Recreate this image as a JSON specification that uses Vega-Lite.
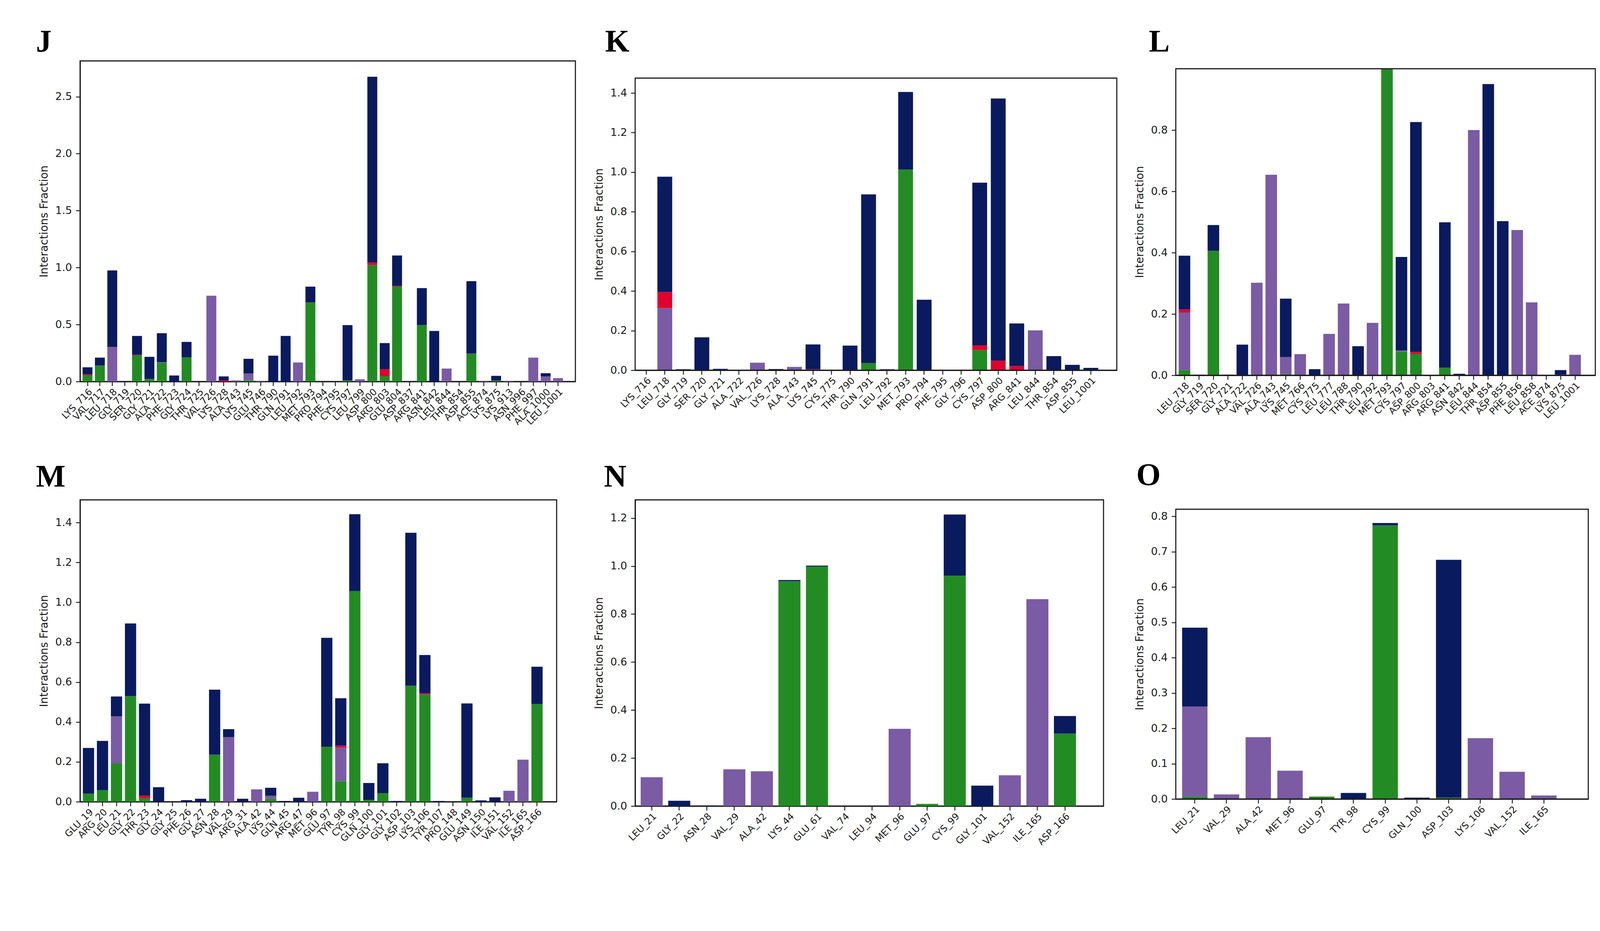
{
  "$schema": "https://vega.github.io/schema/vega-lite/v6.json",
  "background": "white",
  "padding": {"left": 90, "top": 66, "right": 10, "bottom": 10},
  "data": {
    "values": [
      {"p": "J", "r": "LYS_716", "hb": 0.055, "io": 0.01, "wb": 0.06},
      {"p": "J", "r": "VAL_717", "hb": 0.14, "wb": 0.07},
      {"p": "J", "r": "LEU_718", "hp": 0.305, "wb": 0.67},
      {"p": "J", "r": "GLY_719", "hb": 0},
      {"p": "J", "r": "SER_720", "hb": 0.23, "io": 0.005, "wb": 0.165},
      {"p": "J", "r": "GLY_721", "hb": 0.023, "wb": 0.194},
      {"p": "J", "r": "ALA_722", "hb": 0.165, "hp": 0.005, "wb": 0.254},
      {"p": "J", "r": "PHE_723", "wb": 0.053},
      {"p": "J", "r": "GLY_724", "hb": 0.212, "wb": 0.136},
      {"p": "J", "r": "THR_725", "hb": 0},
      {"p": "J", "r": "VAL_726", "hp": 0.753},
      {"p": "J", "r": "LYS_728", "io": 0.01, "wb": 0.035},
      {"p": "J", "r": "ALA_743", "hp": 0.01},
      {"p": "J", "r": "LYS_745", "hb": 0.012, "hp": 0.058, "wb": 0.13},
      {"p": "J", "r": "GLU_746", "hp": 0.005},
      {"p": "J", "r": "THR_790", "wb": 0.227},
      {"p": "J", "r": "GLN_791", "wb": 0.4},
      {"p": "J", "r": "LEU_792", "hp": 0.167},
      {"p": "J", "r": "MET_793", "hb": 0.694, "wb": 0.139},
      {"p": "J", "r": "PRO_794", "hb": 0},
      {"p": "J", "r": "PHE_795", "hb": 0},
      {"p": "J", "r": "CYS_797", "hb": 0.01, "wb": 0.485},
      {"p": "J", "r": "LEU_799", "hp": 0.02},
      {"p": "J", "r": "ASP_800", "hb": 1.023, "io": 0.022, "wb": 1.63},
      {"p": "J", "r": "ARG_803", "hb": 0.048, "io": 0.061, "wb": 0.229},
      {"p": "J", "r": "GLU_804", "hb": 0.833, "io": 0.008, "wb": 0.265},
      {"p": "J", "r": "ASP_837", "hb": 0},
      {"p": "J", "r": "ARG_841", "hb": 0.495, "wb": 0.325},
      {"p": "J", "r": "ASN_842", "wb": 0.444},
      {"p": "J", "r": "LEU_844", "hp": 0.114},
      {"p": "J", "r": "THR_854", "hb": 0},
      {"p": "J", "r": "ASP_855", "hb": 0.245, "wb": 0.636},
      {"p": "J", "r": "ACE_874", "hp": 0.005},
      {"p": "J", "r": "LYS_875", "hb": 0.01, "wb": 0.04},
      {"p": "J", "r": "LYS_913", "hp": 0.005},
      {"p": "J", "r": "ASN_996", "hb": 0},
      {"p": "J", "r": "PHE_997", "hp": 0.21},
      {"p": "J", "r": "ALA_1000", "hp": 0.045, "wb": 0.028},
      {"p": "J", "r": "LEU_1001", "hp": 0.03},

      {"p": "K", "r": "LYS_716", "hb": 0},
      {"p": "K", "r": "LEU_718", "hp": 0.314, "io": 0.081, "wb": 0.582},
      {"p": "K", "r": "GLY_719", "wb": 0.005},
      {"p": "K", "r": "SER_720", "wb": 0.166},
      {"p": "K", "r": "GLY_721", "wb": 0.007},
      {"p": "K", "r": "ALA_722", "hb": 0},
      {"p": "K", "r": "VAL_726", "hp": 0.038},
      {"p": "K", "r": "LYS_728", "wb": 0.006},
      {"p": "K", "r": "ALA_743", "hp": 0.017},
      {"p": "K", "r": "LYS_745", "io": 0.005, "wb": 0.125},
      {"p": "K", "r": "CYS_775", "hb": 0},
      {"p": "K", "r": "THR_790", "wb": 0.124},
      {"p": "K", "r": "GLN_791", "hb": 0.036, "wb": 0.852},
      {"p": "K", "r": "LEU_792", "hp": 0.006},
      {"p": "K", "r": "MET_793", "hb": 1.013, "wb": 0.392},
      {"p": "K", "r": "PRO_794", "wb": 0.356},
      {"p": "K", "r": "PHE_795", "hb": 0},
      {"p": "K", "r": "GLY_796", "hb": 0},
      {"p": "K", "r": "CYS_797", "hb": 0.102, "io": 0.024, "wb": 0.821},
      {"p": "K", "r": "ASP_800", "io": 0.048, "wb": 1.324},
      {"p": "K", "r": "ARG_841", "io": 0.021, "wb": 0.215},
      {"p": "K", "r": "LEU_844", "hp": 0.201},
      {"p": "K", "r": "THR_854", "wb": 0.071},
      {"p": "K", "r": "ASP_855", "wb": 0.027},
      {"p": "K", "r": "LEU_1001", "wb": 0.012},

      {"p": "L", "r": "LEU_718", "hb": 0.017, "hp": 0.188, "io": 0.01, "wb": 0.175},
      {"p": "L", "r": "GLY_719", "wb": 0.002},
      {"p": "L", "r": "SER_720", "hb": 0.406, "wb": 0.084},
      {"p": "L", "r": "GLY_721", "wb": 0.002},
      {"p": "L", "r": "ALA_722", "wb": 0.1},
      {"p": "L", "r": "VAL_726", "hp": 0.302},
      {"p": "L", "r": "ALA_743", "hp": 0.654},
      {"p": "L", "r": "LYS_745", "hb": 0.004, "hp": 0.056, "wb": 0.19},
      {"p": "L", "r": "MET_766", "hp": 0.069},
      {"p": "L", "r": "CYS_775", "wb": 0.02},
      {"p": "L", "r": "LEU_777", "hp": 0.135},
      {"p": "L", "r": "LEU_788", "hp": 0.234},
      {"p": "L", "r": "THR_790", "wb": 0.095},
      {"p": "L", "r": "LEU_792", "hp": 0.171},
      {"p": "L", "r": "MET_793", "hb": 1.0},
      {"p": "L", "r": "CYS_797", "hb": 0.077, "hp": 0.004, "wb": 0.305},
      {"p": "L", "r": "ASP_800", "hb": 0.07, "io": 0.006, "wb": 0.75},
      {"p": "L", "r": "ARG_803", "hb": 0},
      {"p": "L", "r": "ARG_841", "hb": 0.025, "wb": 0.474},
      {"p": "L", "r": "ASN_842", "wb": 0.005},
      {"p": "L", "r": "LEU_844", "hp": 0.8},
      {"p": "L", "r": "THR_854", "wb": 0.95},
      {"p": "L", "r": "ASP_855", "wb": 0.503},
      {"p": "L", "r": "PHE_856", "hp": 0.474},
      {"p": "L", "r": "LEU_858", "hp": 0.238},
      {"p": "L", "r": "ACE_874", "hb": 0},
      {"p": "L", "r": "LYS_875", "io": 0.002, "wb": 0.015},
      {"p": "L", "r": "LEU_1001", "hp": 0.067},

      {"p": "M", "r": "GLU_19", "hb": 0.04, "wb": 0.23},
      {"p": "M", "r": "ARG_20", "hb": 0.059, "wb": 0.246},
      {"p": "M", "r": "LEU_21", "hb": 0.192, "hp": 0.237, "wb": 0.099},
      {"p": "M", "r": "GLY_22", "hb": 0.53, "wb": 0.364},
      {"p": "M", "r": "THR_23", "hb": 0.018, "io": 0.013, "wb": 0.461},
      {"p": "M", "r": "GLY_24", "wb": 0.073},
      {"p": "M", "r": "GLY_25", "hb": 0},
      {"p": "M", "r": "PHE_26", "wb": 0.008},
      {"p": "M", "r": "GLY_27", "wb": 0.015},
      {"p": "M", "r": "ASN_28", "hb": 0.236, "wb": 0.326},
      {"p": "M", "r": "VAL_29", "hp": 0.324, "wb": 0.04},
      {"p": "M", "r": "ARG_31", "wb": 0.015},
      {"p": "M", "r": "ALA_42", "hp": 0.062},
      {"p": "M", "r": "LYS_44", "hb": 0.015, "hp": 0.015, "wb": 0.04},
      {"p": "M", "r": "GLN_45", "wb": 0.004},
      {"p": "M", "r": "ARG_47", "wb": 0.02},
      {"p": "M", "r": "MET_96", "hp": 0.05},
      {"p": "M", "r": "GLU_97", "hb": 0.276, "wb": 0.546},
      {"p": "M", "r": "TYR_98", "hb": 0.103, "hp": 0.168, "io": 0.01, "wb": 0.238},
      {"p": "M", "r": "CYS_99", "hb": 1.056, "wb": 0.386},
      {"p": "M", "r": "GLN_100", "hb": 0.01, "wb": 0.084},
      {"p": "M", "r": "GLY_101", "hb": 0.043, "wb": 0.15},
      {"p": "M", "r": "GLY_102", "wb": 0.004},
      {"p": "M", "r": "ASP_103", "hb": 0.582, "wb": 0.767},
      {"p": "M", "r": "LYS_106", "hb": 0.538, "io": 0.006, "wb": 0.192},
      {"p": "M", "r": "TYR_107", "wb": 0.004},
      {"p": "M", "r": "PRO_148", "hb": 0},
      {"p": "M", "r": "GLU_149", "hb": 0.02, "wb": 0.473},
      {"p": "M", "r": "ASN_150", "wb": 0.007},
      {"p": "M", "r": "ILE_151", "wb": 0.022},
      {"p": "M", "r": "VAL_152", "hp": 0.055},
      {"p": "M", "r": "ILE_165", "hp": 0.211},
      {"p": "M", "r": "ASP_166", "hb": 0.49, "wb": 0.187},

      {"p": "N", "r": "LEU_21", "hp": 0.12},
      {"p": "N", "r": "GLY_22", "wb": 0.022},
      {"p": "N", "r": "ASN_28", "wb": 0.002},
      {"p": "N", "r": "VAL_29", "hp": 0.153},
      {"p": "N", "r": "ALA_42", "hp": 0.145},
      {"p": "N", "r": "LYS_44", "hb": 0.937, "wb": 0.005},
      {"p": "N", "r": "GLU_61", "hb": 0.998, "wb": 0.004},
      {"p": "N", "r": "VAL_74", "hb": 0},
      {"p": "N", "r": "LEU_94", "hb": 0},
      {"p": "N", "r": "MET_96", "hp": 0.322},
      {"p": "N", "r": "GLU_97", "hb": 0.009},
      {"p": "N", "r": "CYS_99", "hb": 0.96, "wb": 0.255},
      {"p": "N", "r": "GLY_101", "wb": 0.085},
      {"p": "N", "r": "VAL_152", "hp": 0.128},
      {"p": "N", "r": "ILE_165", "hp": 0.862},
      {"p": "N", "r": "ASP_166", "hb": 0.302, "wb": 0.073},

      {"p": "O", "r": "LEU_21", "hb": 0.007, "hp": 0.255, "wb": 0.223},
      {"p": "O", "r": "VAL_29", "hp": 0.013},
      {"p": "O", "r": "ALA_42", "hp": 0.175},
      {"p": "O", "r": "MET_96", "hp": 0.08},
      {"p": "O", "r": "GLU_97", "hb": 0.007},
      {"p": "O", "r": "TYR_98", "wb": 0.017},
      {"p": "O", "r": "CYS_99", "hb": 0.774, "wb": 0.007},
      {"p": "O", "r": "GLN_100", "wb": 0.004},
      {"p": "O", "r": "ASP_103", "hb": 0.004, "wb": 0.673},
      {"p": "O", "r": "LYS_106", "hp": 0.172},
      {"p": "O", "r": "VAL_152", "hp": 0.077},
      {"p": "O", "r": "ILE_165", "hp": 0.01}
    ]
  },
  "transform": [
    {"fold": ["hb", "hp", "io", "wb"], "as": ["t", "v"]},
    {"filter": "isValid(datum.v)"}
  ],
  "spacing": 43,
  "hconcat": [
    {
      "spacing": 85,
      "vconcat": [
        {
          "width": 1268,
          "height": 821,
          "title": {"text": "J", "offset": 7, "dx": -113},
          "transform": [{"filter": "datum.p == 'J'"}],
          "mark": "bar",
          "encoding": {
            "x": {"field": "r", "type": "nominal", "sort": null, "title": null,
                  "scale": {"paddingInner": 0.2, "paddingOuter": 0.6, "align": 0.1667}},
            "y": {"field": "v", "type": "quantitative", "stack": "zero", "title": "Interactions Fraction",
                  "scale": {"domain": [0, 2.814], "nice": false},
                  "axis": {"values": [0, 0.5, 1, 1.5, 2, 2.5]}},
            "color": {"field": "t", "type": "nominal", "legend": null,
                      "scale": {"domain": ["hb", "hp", "io", "wb"], "range": ["#238b23", "#7a5ba4", "#e0002f", "#0a1a5e"]}},
            "order": {"field": "t", "sort": "ascending"}
          }
        },
        {
          "width": 1220,
          "height": 773,
          "title": {"text": "M", "offset": 17, "dx": -113},
          "transform": [{"filter": "datum.p == 'M'"}],
          "mark": "bar",
          "encoding": {
            "x": {"field": "r", "type": "nominal", "sort": null, "title": null,
                  "scale": {"paddingInner": 0.2, "paddingOuter": 0.6, "align": 0.1667}},
            "y": {"field": "v", "type": "quantitative", "stack": "zero", "title": "Interactions Fraction",
                  "scale": {"domain": [0, 1.514], "nice": false},
                  "axis": {"values": [0, 0.2, 0.4, 0.6, 0.8, 1, 1.2, 1.4]}},
            "color": {"field": "t", "type": "nominal", "legend": null,
                      "scale": {"domain": ["hb", "hp", "io", "wb"], "range": ["#2e912e", "#8268a8", "#e0002f", "#0c1f62"]}},
            "order": {"field": "t", "sort": "ascending"}
          }
        }
      ]
    },
    {
      "spacing": 116,
      "vconcat": [
        {
          "width": 1233,
          "height": 792,
          "view": {"stroke": null},
          "title": {"text": "K", "offset": 7, "dx": -77},
          "layer": [
            {
              "transform": [{"filter": "datum.p == 'K'"}],
              "mark": "bar",
              "encoding": {
                "x": {"field": "r", "type": "nominal", "sort": null, "title": null,
                      "scale": {"paddingInner": 0.2, "paddingOuter": 0.6, "align": 0.1667}},
                "y": {"field": "v", "type": "quantitative", "stack": "zero", "title": "Interactions Fraction",
                      "scale": {"domain": [0, 1.56176], "nice": false},
                      "axis": {"values": [0, 0.2, 0.4, 0.6, 0.8, 1, 1.2, 1.4], "domain": false, "titleY": 418}},
                "color": {"field": "t", "type": "nominal", "legend": null,
                          "scale": {"domain": ["hb", "hp", "io", "wb"], "range": ["#2e962e", "#8268a8", "#e0002f", "#0c2165"]}},
                "order": {"field": "t", "sort": "ascending"}
              }
            },
            {
              "transform": [{"aggregate": [{"op": "count", "as": "n"}]}],
              "mark": {"type": "rect", "fill": null, "stroke": "#1a1a1a", "strokeWidth": 2.8},
              "encoding": {
                "x": {"datum": 0, "type": "quantitative", "scale": {"domain": [0, 1], "nice": false, "zero": false}, "axis": null},
                "x2": {"datum": 1},
                "y": {"datum": 0, "type": "quantitative"},
                "y2": {"datum": 1.475}
              }
            }
          ],
          "resolve": {"scale": {"x": "independent"}}
        },
        {
          "width": 1199,
          "height": 784,
          "title": {"text": "N", "offset": 17, "dx": -80},
          "transform": [{"filter": "datum.p == 'N'"}],
          "mark": "bar",
          "encoding": {
            "x": {"field": "r", "type": "nominal", "sort": null, "title": null,
                  "scale": {"paddingInner": 0.2, "paddingOuter": 0.6, "align": 0.1667}},
            "y": {"field": "v", "type": "quantitative", "stack": "zero", "title": "Interactions Fraction",
                  "scale": {"domain": [0, 1.276], "nice": false},
                  "axis": {"values": [0, 0.2, 0.4, 0.6, 0.8, 1, 1.2]}},
            "color": {"field": "t", "type": "nominal", "legend": null,
                      "scale": {"domain": ["hb", "hp", "io", "wb"], "range": ["#238b23", "#7758a0", "#e0002f", "#061258"]}},
            "order": {"field": "t", "sort": "ascending"}
          }
        }
      ]
    },
    {
      "spacing": 101,
      "vconcat": [
        {
          "width": 1074,
          "height": 805,
          "view": {"stroke": null},
          "title": {"text": "L", "offset": 7, "dx": -69},
          "layer": [
            {
              "transform": [{"filter": "datum.p == 'L'"}],
              "mark": "bar",
              "encoding": {
                "x": {"field": "r", "type": "nominal", "sort": null, "title": null,
                      "scale": {"paddingInner": 0.2, "paddingOuter": 0.6, "align": 0.1667}},
                "y": {"field": "v", "type": "quantitative", "stack": "zero", "title": "Interactions Fraction",
                      "scale": {"domain": [0, 1.02548], "nice": false},
                      "axis": {"values": [0, 0.2, 0.4, 0.6, 0.8], "domain": false, "titleY": 412}},
                "color": {"field": "t", "type": "nominal", "legend": null,
                          "scale": {"domain": ["hb", "hp", "io", "wb"], "range": ["#238b23", "#7758a0", "#e0002f", "#061258"]}},
                "order": {"field": "t", "sort": "ascending"}
              }
            },
            {
              "transform": [{"aggregate": [{"op": "count", "as": "n"}]}],
              "mark": {"type": "rect", "fill": null, "stroke": "#1a1a1a", "strokeWidth": 2.8},
              "encoding": {
                "x": {"datum": 0, "type": "quantitative", "scale": {"domain": [0, 1], "nice": false, "zero": false}, "axis": null},
                "x2": {"datum": 1},
                "y": {"datum": 0, "type": "quantitative"},
                "y2": {"datum": 1.0}
              }
            }
          ],
          "resolve": {"scale": {"x": "independent"}}
        },
        {
          "width": 1056,
          "height": 770,
          "view": {"stroke": null},
          "title": {"text": "O", "offset": 17, "dx": -101},
          "layer": [
            {
              "transform": [{"filter": "datum.p == 'O'"}],
              "mark": "bar",
              "encoding": {
                "x": {"field": "r", "type": "nominal", "sort": null, "title": null,
                      "scale": {"paddingInner": 0.2, "paddingOuter": 0.6, "align": 0.1667}},
                "y": {"field": "v", "type": "quantitative", "stack": "zero", "title": "Interactions Fraction",
                      "scale": {"domain": [0, 0.85094], "nice": false},
                      "axis": {"values": [0, 0.1, 0.2, 0.3, 0.4, 0.5, 0.6, 0.7, 0.8], "domain": false, "titleY": 399}},
                "color": {"field": "t", "type": "nominal", "legend": null,
                          "scale": {"domain": ["hb", "hp", "io", "wb"], "range": ["#2e912e", "#8060a6", "#e0002f", "#0a1a5e"]}},
                "order": {"field": "t", "sort": "ascending"}
              }
            },
            {
              "transform": [{"aggregate": [{"op": "count", "as": "n"}]}],
              "mark": {"type": "rect", "fill": null, "stroke": "#1a1a1a", "strokeWidth": 2.8},
              "encoding": {
                "x": {"datum": 0, "type": "quantitative", "scale": {"domain": [0, 1], "nice": false, "zero": false}, "axis": null},
                "x2": {"datum": 1},
                "y": {"datum": 0, "type": "quantitative"},
                "y2": {"datum": 0.82}
              }
            }
          ],
          "resolve": {"scale": {"x": "independent"}}
        }
      ]
    }
  ],
  "config": {
    "font": "DejaVu Sans",
    "view": {"stroke": "#1a1a1a", "strokeWidth": 2.8},
    "axis": {
      "grid": false,
      "domainColor": "#1a1a1a",
      "domainWidth": 2.8,
      "tickColor": "#1a1a1a",
      "tickWidth": 2.3,
      "tickSize": 11,
      "labelColor": "#1a1a1a",
      "labelFont": "DejaVu Sans",
      "titleFont": "DejaVu Sans",
      "titleFontWeight": "normal",
      "titleColor": "#1a1a1a"
    },
    "axisY": {"labelFontSize": 27, "labelPadding": 10, "titleFontSize": 28, "titlePadding": 14, "format": ".1f"},
    "axisX": {"labelAngle": -45, "labelFontSize": 24, "labelPadding": 3, "labelOverlap": false},
    "title": {"font": "Liberation Serif", "fontWeight": "bold", "fontSize": 80, "anchor": "start", "frame": "group", "color": "black"}
  }
}
